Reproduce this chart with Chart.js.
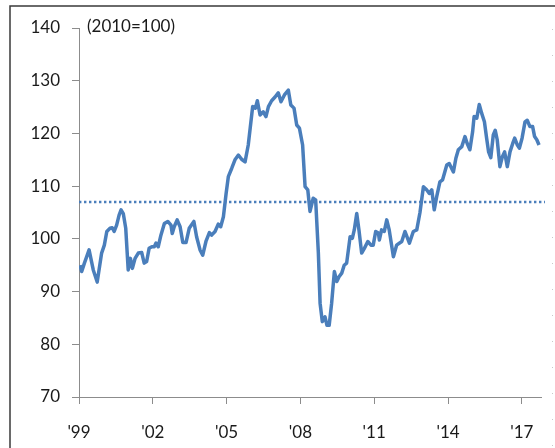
<!DOCTYPE html>
<html>
<head>
<meta charset="utf-8">
<script src="https://cdn.jsdelivr.net/npm/chart.js@4"></script>
<style>
    html, body { margin: 0; padding: 0; background: #fff; }
    #wrap { width: 555px; height: 448px; position: relative; }
</style>
</head>
<body>
<div id="wrap"><canvas id="indexChart"></canvas></div>
<script>
// Index (2010=100)
const years = [
    1999.04, 1999.11, 1999.22, 1999.41, 1999.58, 1999.74, 1999.92, 2000.03, 2000.13, 2000.26,
    2000.35, 2000.43, 2000.53, 2000.63, 2000.71, 2000.80, 2000.90, 2001.00, 2001.09, 2001.17,
    2001.28, 2001.41, 2001.55, 2001.65, 2001.75, 2001.85, 2001.96, 2002.06, 2002.13, 2002.22,
    2002.33, 2002.47, 2002.61, 2002.74, 2002.79, 2002.87, 2002.99, 2003.11, 2003.22, 2003.35,
    2003.48, 2003.67, 2003.78, 2003.92, 2004.03, 2004.16, 2004.30, 2004.39, 2004.53, 2004.66,
    2004.76, 2004.87, 2004.98, 2005.07, 2005.21, 2005.34, 2005.48, 2005.61, 2005.75, 2005.88,
    2006.06, 2006.17, 2006.25, 2006.36, 2006.49, 2006.60, 2006.70, 2006.83, 2006.97, 2007.10,
    2007.21, 2007.35, 2007.51, 2007.61, 2007.74, 2007.85, 2007.96, 2008.09, 2008.19, 2008.30,
    2008.39, 2008.52, 2008.62, 2008.73, 2008.80, 2008.89, 2009.00, 2009.08, 2009.17, 2009.27,
    2009.38, 2009.48, 2009.57, 2009.68, 2009.78, 2009.88, 2010.02, 2010.11, 2010.19, 2010.29,
    2010.38, 2010.49, 2010.60, 2010.74, 2010.87, 2010.96, 2011.06, 2011.17, 2011.21, 2011.30,
    2011.41, 2011.51, 2011.61, 2011.78, 2011.91, 2012.12, 2012.25, 2012.43, 2012.59, 2012.73,
    2012.86, 2013.00, 2013.13, 2013.24, 2013.34, 2013.44, 2013.54, 2013.67, 2013.78, 2013.95,
    2014.05, 2014.22, 2014.32, 2014.42, 2014.56, 2014.69, 2014.78, 2014.89, 2015.00, 2015.06,
    2015.17, 2015.27, 2015.37, 2015.48, 2015.57, 2015.65, 2015.74, 2015.84, 2015.92, 2016.00,
    2016.11, 2016.21, 2016.30, 2016.41, 2016.52, 2016.63, 2016.71, 2016.82, 2016.90, 2017.01,
    2017.13, 2017.22, 2017.33, 2017.44, 2017.52, 2017.61, 2017.70
];
const values = [
    95.0, 93.8, 95.4, 97.9, 94.1, 91.8, 97.3, 98.8, 101.4, 102.0,
    102.1, 101.4, 102.6, 104.5, 105.5, 104.8, 102.0, 94.1, 96.3, 94.4,
    96.3, 97.3, 97.4, 95.4, 95.7, 98.2, 98.5, 98.5, 99.2, 98.5,
    100.7, 102.9, 103.3, 102.6, 101.0, 102.3, 103.6, 102.3, 99.3, 99.3,
    102.0, 103.3, 100.4, 97.9, 96.9, 99.5, 101.2, 100.7, 101.4, 102.8,
    102.3, 104.2, 108.6, 111.8, 113.4, 115.0, 115.9, 115.1, 114.6, 117.8,
    125.1, 124.8, 126.2, 123.5, 124.1, 123.2, 125.1, 126.2, 126.9, 127.7,
    126.0, 127.3, 128.2, 125.4, 124.8, 121.6, 121.0, 117.8, 109.9, 109.3,
    105.2, 107.7, 107.4, 97.3, 87.8, 84.3, 85.2, 83.6, 83.6, 87.8,
    93.8, 91.9, 92.8, 93.5, 95.0, 95.4, 100.4, 100.1, 101.7, 104.8,
    101.7, 97.3, 98.2, 99.5, 98.8, 98.8, 101.4, 101.1, 99.8, 101.7,
    101.4, 103.6, 101.7, 96.6, 98.8, 99.5, 101.4, 99.2, 101.4, 101.7,
    105.0, 109.9, 109.3, 108.6, 109.3, 105.5, 108.0, 110.8, 111.2, 114.0,
    114.3, 112.7, 115.3, 116.9, 117.5, 119.4, 118.1, 116.9, 120.3, 123.2,
    122.9, 125.5, 123.8, 122.2, 119.1, 116.5, 115.4, 119.7, 120.6, 118.8,
    113.7, 115.6, 116.5, 113.7, 116.5, 118.1, 119.1, 117.8, 117.2, 119.1,
    122.2, 122.5, 121.3, 121.3, 119.4, 118.8, 117.8
];

// Dotted average level
const refLevel = 107.0;
const refYears = [1999, 2017.94];

// Axes
const xTickYears = [1999, 2002, 2005, 2008, 2011, 2014, 2017];
const xTickLabels = ["'99", "'02", "'05", "'08", "'11", "'14", "'17"];
const yTicks = [70, 80, 90, 100, 110, 120, 130, 140];
const unitNote = '(2010=100)';

const lineBlue = '#4a7ebb';
const axisGray = '#8c8c8c';
const textColor = '#1a1a1a';
const fontFamily = 'Lato, "Open Sans", sans-serif';

// Frame, unit note and the faint right-hand dots
const decorPlugin = {
    id: 'decor',
    afterDraw(chart) {
        const ctx = chart.ctx;
        const area = chart.chartArea;
        ctx.save();
        ctx.strokeStyle = '#3a3a3a';
        ctx.lineWidth = 1.5;
        ctx.beginPath();
        ctx.moveTo(10, chart.height);
        ctx.lineTo(10, 6);
        ctx.lineTo(chart.width, 6);
        ctx.stroke();

        ctx.strokeStyle = '#c8c8c8';
        ctx.lineWidth = 1;
        ctx.setLineDash([1, 25]);
        ctx.beginPath();
        ctx.moveTo(552.5, 29);
        ctx.lineTo(552.5, chart.height);
        ctx.stroke();
        ctx.setLineDash([]);

        ctx.fillStyle = textColor;
        ctx.font = '17px ' + fontFamily;
        ctx.textBaseline = 'middle';
        ctx.textAlign = 'left';
        ctx.fillText(unitNote, area.left + 8, area.top - 1);
        ctx.restore();
    }
};

function initIndexChart() {
    const ctx = document.getElementById('indexChart');
    if (!ctx) return;

    new Chart(ctx, {
        type: 'line',
        data: {
            datasets: [
                {
                    data: years.map((y, i) => ({ x: y, y: values[i] })),
                    borderColor: lineBlue,
                    borderWidth: 3.5,
                    pointRadius: 0,
                    tension: 0,
                    borderJoinStyle: 'round'
                },
                {
                    data: refYears.map(y => ({ x: y, y: refLevel })),
                    borderColor: lineBlue,
                    borderWidth: 2.4,
                    borderDash: [2.4, 2.6],
                    pointRadius: 0,
                    clip: false
                }
            ]
        },
        options: {
            responsive: true,
            maintainAspectRatio: false,
            animation: false,
            layout: {
                padding: { left: 0, top: 28, right: 14, bottom: 6 }
            },
            plugins: {
                legend: { display: false },
                tooltip: { enabled: false }
            },
            scales: {
                x: {
                    type: 'linear',
                    min: 1999,
                    max: 2017.78,
                    afterBuildTicks: function (scale) {
                        scale.ticks = xTickYears.map(v => ({ value: v }));
                    },
                    afterFit: function (scale) {
                        scale.height = 45;
                    },
                    border: { color: axisGray, width: 1 },
                    grid: {
                        drawOnChartArea: false,
                        drawTicks: true,
                        tickLength: 7,
                        color: axisGray
                    },
                    ticks: {
                        autoSkip: false,
                        maxRotation: 0,
                        padding: 18,
                        color: textColor,
                        font: { family: fontFamily, size: 17 },
                        callback: function (value) {
                            const i = xTickYears.indexOf(value);
                            return i >= 0 ? xTickLabels[i] : '';
                        }
                    }
                },
                y: {
                    min: yTicks[0],
                    max: yTicks[yTicks.length - 1],
                    afterBuildTicks: function (scale) {
                        scale.ticks = yTicks.map(v => ({ value: v }));
                    },
                    afterFit: function (scale) {
                        scale.width = 79;
                    },
                    border: { color: axisGray, width: 1 },
                    grid: {
                        drawOnChartArea: false,
                        drawTicks: true,
                        tickLength: 7,
                        color: axisGray
                    },
                    ticks: {
                        padding: 12,
                        color: textColor,
                        font: { family: fontFamily, size: 17 }
                    }
                }
            }
        },
        plugins: [decorPlugin]
    });
}

document.addEventListener('DOMContentLoaded', initIndexChart);
</script>
</body>
</html>
